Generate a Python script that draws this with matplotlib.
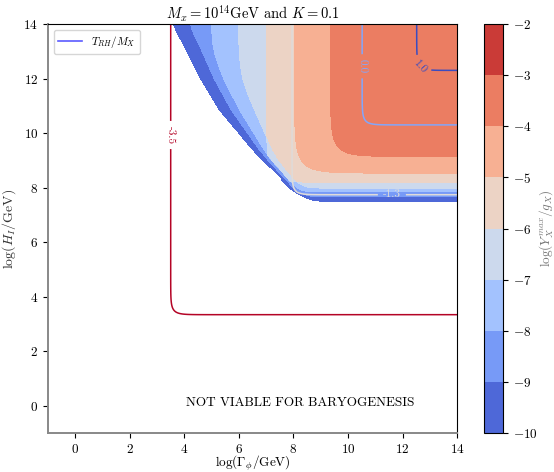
import numpy as np
import matplotlib

matplotlib.use("Agg")
import matplotlib.pyplot as plt
from matplotlib.lines import Line2D

plt.rcParams["font.family"] = "serif"
plt.rcParams["font.serif"] = ["cmr10"]
plt.rcParams["mathtext.fontset"] = "cm"
plt.rcParams["axes.formatter.use_mathtext"] = True

# colour bands of log(Y_X^max / g_X)
band_levels = [-10, -9, -8, -7, -6, -5, -4, -3, -2]

# band edges
edge_levels = [-10, -9, -8, -7, -6, -5, -4]
edge_top_x = [3.53, 4.16, 5.0, 5.98, 7.02, 8.04, 9.36]  # vertical parts
edge_right_y = [7.49, 7.66, 7.84, 7.98, 8.19, 8.53, 9.14]  # horizontal parts
edge_round = [0.1, 0.1, 0.1, 0.14, 0.4, 0.5, 0.45]  # corner rounding
edge_cut_off = [0.0, 0.43, 0.73, 1.28, None, None, None]  # offset from the cut

# the diagonal cut (outer blue edge)
cut_y = [7.4, 7.55, 7.75, 7.98, 9.4, 10.85, 12.0, 13.2, 14.0]
cut_x = [9.3, 8.6, 8.2, 7.86, 6.5, 5.29, 4.6, 4.0, 3.53]
# how the band widths along the cut shrink towards the bottom
width_y = [7.5, 9.0, 10.85, 14.0]
width_s = [0.3, 0.45, 1.0, 1.4]

# log(T_RH / M_X) contour lines
t_levels = [-3.5, -1.3, 0.0, 1.0]
t_x = [3.5, 7.95, 10.52, 12.52]
t_y = [3.34, 7.74, 10.3, 12.3]
t_ends = (-5.75, 1.8)

# where the inline labels sit
t_label_at = [(3.5, 9.93), (11.61, 7.74), (10.52, 12.45), (12.66, 12.46)]


def softmin(k, *fields):
    f = np.stack(fields)
    m = f.min(axis=0)
    return m - k * np.log(np.exp(-(f - m) / k).sum(axis=0))


gx = np.linspace(-1, 14, 700)
gy = np.linspace(-1, 14, 700)
X, Y = np.meshgrid(gx, gy)
cut = np.interp(Y, cut_y, cut_x)
width = np.interp(Y, width_y, width_s)

# signed "inside" distance for every band edge
G = []
for x0, y0, r, off in zip(edge_top_x, edge_right_y, edge_round, edge_cut_off):
    parts = [X - x0, Y - y0]
    if off is not None:
        parts.append(0.75 * (X - cut - off * width))
    G.append(softmin(r, *parts))
G.append(-np.ones_like(X))
G = np.stack(G)

lev = np.array(edge_levels + [-3], dtype=float)
idx = (G >= 0).sum(axis=0) - 1
safe = np.clip(idx, 0, len(lev) - 2)
g0 = np.take_along_axis(G, safe[None], 0)[0]
g1 = np.take_along_axis(G, safe[None] + 1, 0)[0]
Z = np.where(idx < 0, lev[0] + G[0], lev[safe] + g0 / (g0 - g1))

Tx = np.interp(X, [-1.0] + t_x + [14.0], [t_ends[0]] + t_levels + [t_ends[1]])
Ty = np.interp(Y, [-1.0] + t_y + [14.0], [t_ends[0]] + t_levels + [t_ends[1]])
T = softmin(0.1, Tx, Ty)

fig = plt.figure(figsize=(5.54, 4.72), dpi=100)
ax = fig.add_axes([0.0866, 0.0826, 0.7384, 0.8665])
cax = fig.add_axes([0.8736, 0.0826, 0.0343, 0.8665])

cf = ax.contourf(X, Y, Z, levels=band_levels, cmap="coolwarm")
cs = ax.contour(X, Y, T, levels=t_levels, cmap="coolwarm_r", linewidths=1.1)
ax.clabel(cs, fmt="%.1f", fontsize=8, manual=t_label_at)

ax.set_xlim(-1, 14)
ax.set_ylim(-1, 14)
ax.set_xticks(range(0, 15, 2))
ax.set_yticks(range(0, 15, 2))
ax.tick_params(labelsize=9.5)
for side in ["left", "bottom"]:
    ax.spines[side].set_color("#888888")
    ax.spines[side].set_linewidth(1.4)

ax.set_xlabel(r"$\log(\Gamma_\phi/\mathrm{GeV})$", fontsize=9.5, labelpad=-1)
ax.set_ylabel(r"$\log(H_I/\mathrm{GeV})$", fontsize=10, color="#333333")
ax.set_title(r"$M_x = 10^{14}\mathrm{GeV}$ and $K = 0.1$", fontsize=10.5, pad=3)
ax.text(8.23, 0.12, "NOT VIABLE FOR BARYOGENESIS", ha="center", va="center", fontsize=9.5)

proxy = Line2D([], [], color="#5b5bff", lw=1.2, label=r"$T_{RH}/M_X$")
ax.legend(handles=[proxy], loc="upper left", fontsize=8, handlelength=2.2)

cb = fig.colorbar(cf, cax=cax, ticks=band_levels)
cb.ax.tick_params(labelsize=9.5)
cb.set_label(r"$\log(Y_X^{max}/g_X)$", fontsize=9.5, color="#777777", labelpad=0)

fig.savefig("out.png", dpi=100)
